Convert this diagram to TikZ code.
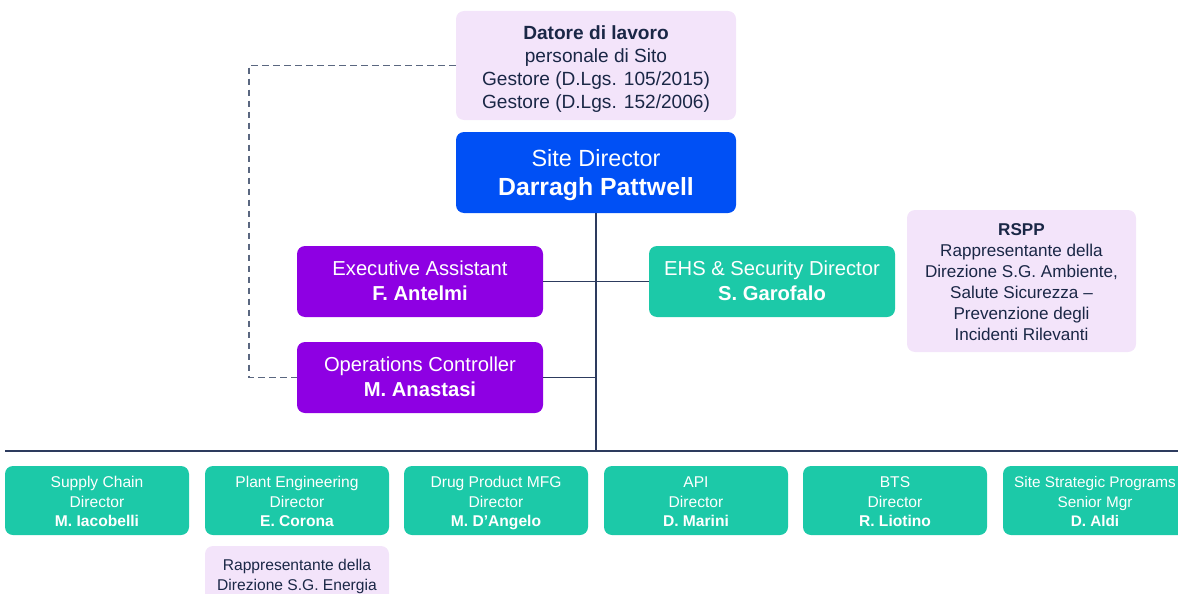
\documentclass[tikz,border=0pt]{standalone}
\usepackage{fontspec}
\setmainfont{Liberation Sans}
\definecolor{lav}{HTML}{F3E4FA}
\definecolor{navy}{HTML}{1A2746}
\definecolor{sdblue}{HTML}{0050F5}
\definecolor{purp}{HTML}{8E00E3}
\definecolor{teal}{HTML}{1CC9A8}
\definecolor{linec}{HTML}{2D3B5E}
\definecolor{dashc}{HTML}{5A6780}
\newcommand\tp{\rule{0pt}{\toph}}
\begin{document}
\begin{tikzpicture}[x=1pt,y=-1pt,
  toph/.store in=\toph, toph=0.97em,
  box/.style={rectangle, rounded corners=8pt, inner sep=2pt, align=center, text=white,
    execute at end node={\rule[-0.25em]{0pt}{0.25em}}},
  lavbox/.style={box, fill=lav, text=navy},
  bluebox/.style={box, fill=sdblue},
  purpbox/.style={box, fill=purp, minimum width=246, minimum height=71, toph=0.91em, font=\fontsize{20.2}{25}\selectfont},
  tealbox/.style={box, fill=teal},
  midteal/.style={tealbox, minimum width=246, minimum height=71, toph=0.91em, font=\fontsize{20.2}{25}\selectfont},
  botbox/.style={tealbox, minimum width=184, minimum height=69, toph=1.11em, font=\fontsize{15.6}{19.5}\selectfont},
  conn/.style={draw=linec, line width=1.5pt},
  dconn/.style={draw=dashc, line width=1.2pt, dash pattern=on 6.5pt off 4.5pt}
]
\useasboundingbox (0,0) rectangle (1178,594);
\clip (0,0) rectangle (1178,594);

\node[lavbox, minimum width=280, minimum height=109, toph=1.09em, font=\fontsize{19.1}{23}\selectfont] (dat) at (596,65.5)
  {\tp\textbf{Datore di lavoro}\\personale di Sito\\Gestore (D.Lgs. 105/2015)\\Gestore (D.Lgs. 152/2006)};
\node[bluebox, minimum width=280, minimum height=81, toph=0.99em, font=\fontsize{23.4}{29}\selectfont] (sd) at (596,172.5)
  {\tp Site Director\\{\fontsize{24.8}{29}\selectfont\bfseries Darragh Pattwell}};

\node[purpbox] (ea) at (420,281.5) {\tp Executive Assistant\\\textbf{F. Antelmi}};
\node[purpbox] (oc) at (420,377.5) {\tp Operations Controller\\\textbf{M. Anastasi}};
\node[midteal] (ehs) at (772,281.5) {\tp EHS \& Security Director\\\textbf{S. Garofalo}};

\node[lavbox, minimum width=229, minimum height=142, toph=1.01em, font=\fontsize{17.1}{21}\selectfont] (rspp) at (1021.5,281)
  {\tp\textbf{RSPP}\\Rappresentante della\\Direzione S.G. Ambiente,\\Salute Sicurezza –\\Prevenzione degli\\Incidenti Rilevanti};

\node[botbox] (b1) at (97,500.5) {\tp Supply Chain\\Director\\\textbf{M. Iacobelli}};
\node[botbox] (b2) at (297,500.5) {\tp Plant Engineering\\Director\\\textbf{E. Corona}};
\node[botbox] (b3) at (496,500.5) {\tp Drug Product MFG\\Director\\\textbf{M. D'Angelo}};
\node[botbox] (b4) at (696,500.5) {\tp API\\Director\\\textbf{D. Marini}};
\node[botbox] (b5) at (895,500.5) {\tp BTS\\Director\\\textbf{R. Liotino}};
\node[botbox, font=\fontsize{15.3}{19.5}\selectfont] (b6) at (1095,500.5) {\tp Site Strategic Programs\\Senior Mgr\\\textbf{D. Aldi}};
\node[lavbox, minimum width=184, minimum height=59, toph=0.88em, font=\fontsize{15.6}{19.5}\selectfont] (rap) at (297,575.5)
  {\tp Rappresentante della\\Direzione S.G. Energia};

\coordinate (busL) at (5,451);
\coordinate (busR) at (1178,451);
\coordinate (dc) at (249,65.5);

\draw[conn] (busL) -- (busR);
\draw[conn] (sd.south) -- (sd.south |- busL);
\draw[conn] (ea.east) -- (ehs.west);
\draw[conn] (oc.east) -- (oc.east -| sd.south);
\draw[dconn] (dat.west) -- (dc) |- (oc.west);
\end{tikzpicture}
\end{document}
